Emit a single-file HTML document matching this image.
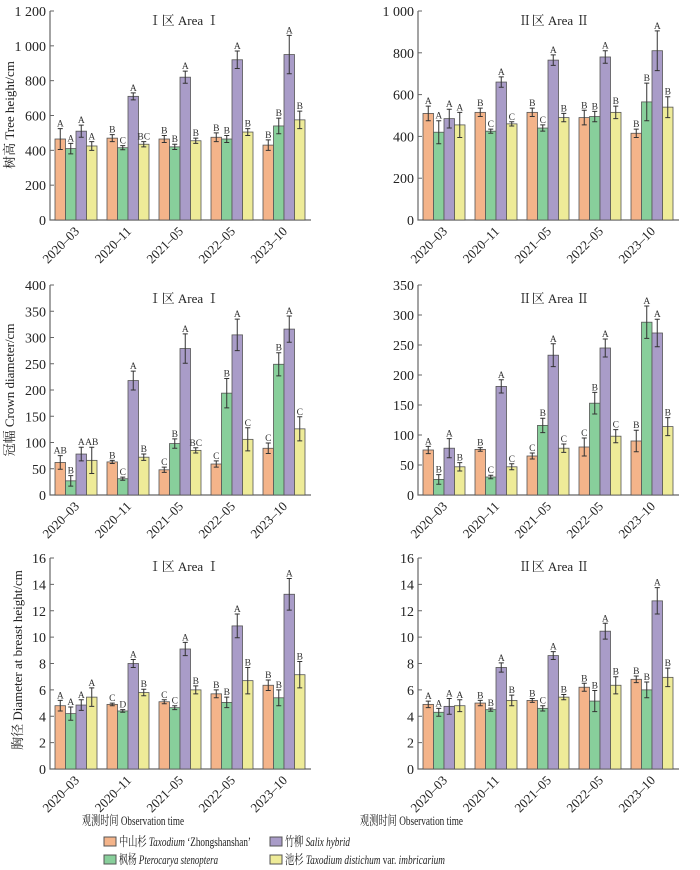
<!DOCTYPE html>
<html><head><meta charset="utf-8">
<style>
html,body{margin:0;padding:0;background:#fff;}
svg{display:block;font-family:"Liberation Serif","Noto Serif CJK SC",serif;}
</style></head>
<body>
<svg id="chart" width="700" height="870" xmlns="http://www.w3.org/2000/svg">
  <text x="82" y="825" font-size="13" textLength="102" lengthAdjust="spacingAndGlyphs" fill="#222">观测时间 Observation time</text>
  <text x="360" y="825" font-size="13" textLength="103" lengthAdjust="spacingAndGlyphs" fill="#222">观测时间 Observation time</text>
  <g font-size="13" fill="#222">
    <g><rect x="104" y="837" width="12" height="9" fill="#f4b48a" stroke="#555"/><text x="119" y="846" textLength="132" lengthAdjust="spacingAndGlyphs">中山杉 <tspan font-style="italic">Taxodium</tspan> ‘Zhongshanshan’</text></g>
    <g><rect x="270" y="837" width="12" height="9" fill="#a99cc8" stroke="#555"/><text x="285" y="846" textLength="65" lengthAdjust="spacingAndGlyphs">竹柳 <tspan font-style="italic">Salix hybrid</tspan></text></g>
    <g><rect x="104" y="855" width="12" height="9" fill="#88cf9b" stroke="#555"/><text x="119" y="864" textLength="99" lengthAdjust="spacingAndGlyphs">枫杨 <tspan font-style="italic">Pterocarya stenoptera</tspan></text></g>
    <g><rect x="270" y="855" width="12" height="9" fill="#eeeb98" stroke="#555"/><text x="285" y="864" textLength="160" lengthAdjust="spacingAndGlyphs">池杉 <tspan font-style="italic">Taxodium distichum</tspan> var. <tspan font-style="italic">imbricarium</tspan></text></g>
  </g>
</svg>
<script>
const categories = ["2020–03","2020–11","2021–05","2022–05","2023–10"];
const seriesNames = ["zhongshanshan","pterocarya","salix","taxodium-distichum"];
const colors = ["#f4b48a","#88cf9b","#a99cc8","#eeeb98"];

const heightAVals = [[465,470,465,475,430],[410,415,420,465,540],[510,710,820,920,950],[425,435,455,505,575]];
const heightAErr = [[60,20,20,25,30],[30,12,15,20,45],[35,20,35,50,110],[25,15,15,20,50]];
const heightALet = [["A","B","B","B","B"],["A","C","B","B","B"],["A","A","A","A","A"],["A","BC","B","B","B"]];

const heightBVals = [[510,515,515,490,415],[420,425,440,495,565],[485,660,765,780,810],[455,460,490,515,540]];
const heightBErr = [[35,20,20,35,20],[55,10,15,25,90],[45,25,25,30,95],[60,10,20,30,50]];
const heightBLet = [["A","B","B","B","B"],["A","C","C","B","B"],["A","A","A","A","A"],["A","C","B","B","B"]];

const crownAVals = [[62,63,48,59,89],[27,31,98,194,249],[78,218,279,305,316],[66,72,85,106,126]];
const crownAErr = [[13,3,5,6,10],[10,3,9,28,22],[13,18,28,30,25],[25,6,5,22,23]];
const crownALet = [["AB","B","C","C","C"],["B","C","B","B","B"],["A","A","A","A","A"],["AB","B","BC","C","C"]];

const crownBVals = [[75,76,65,80,90],[26,30,116,153,288],[78,181,233,245,270],[47,47,78,98,114]];
const crownBErr = [[6,3,5,15,18],[8,3,12,18,27],[16,11,19,15,23],[7,5,7,11,15]];
const crownBLet = [["A","B","C","C","B"],["B","C","B","B","A"],["A","A","A","A","A"],["B","C","C","C","B"]];

const dbhAVals = [[4.8,4.9,5.1,5.7,6.35],[4.2,4.4,4.65,5.05,5.4],[4.85,8.0,9.1,10.85,13.25],[5.45,5.8,6.0,6.7,7.15]];
const dbhAErr = [[0.4,0.1,0.15,0.3,0.4],[0.5,0.1,0.15,0.4,0.6],[0.4,0.3,0.5,0.9,1.2],[0.7,0.25,0.3,1.0,1.0]];
const dbhALet = [["A","C","C","B","B"],["A","D","C","B","B"],["A","A","A","A","A"],["A","B","B","B","B"]];

const dbhBVals = [[4.9,5.0,5.2,6.2,6.8],[4.3,4.5,4.6,5.15,6.0],[4.75,7.7,8.6,10.45,12.75],[4.8,5.2,5.45,6.35,6.95]];
const dbhBErr = [[0.25,0.2,0.15,0.3,0.25],[0.3,0.12,0.2,0.8,0.6],[0.6,0.35,0.3,0.6,1.0],[0.45,0.4,0.2,0.65,0.7]];
const dbhBLet = [["A","B","B","B","B"],["A","B","C","B","B"],["A","A","A","A","A"],["A","B","B","B","B"]];

const ticksH1 = [0,200,400,600,800,1000,1200];
const ticksH2 = [0,200,400,600,800,1000];
const ticksC1 = [0,50,100,150,200,250,300,350,400];
const ticksC2 = [0,50,100,150,200,250,300,350];
const ticksD = [0,2,4,6,8,10,12,14,16];

const NS = "http://www.w3.org/2000/svg";
const svg = document.getElementById("chart");
function mk(tag, attrs, parent){
  const e = document.createElementNS(NS, tag);
  for (const k in attrs) e.setAttribute(k, attrs[k]);
  (parent||svg).appendChild(e);
  return e;
}
function fmt(v){ return v>=1000 ? String(v).replace(/(\d)(\d{3})$/,"$1 $2") : String(v); }

function panel(cfg){
  const g = mk("g", {});
  
  
  const x0 = cfg.x0, x1 = cfg.x1, yb = cfg.yb, yt = cfg.yt;
  const maxV = cfg.ticks[cfg.ticks.length-1];
  const yS = v => yb - (v/maxV)*(yb-yt);
  const gap = 52, bw = 10.5, start = x0 + 5;
  const xS = (ci, si) => start + ci*gap + si*bw;
  const ax = mk("path", {d:`M${x0},${yt} L${x0},${yb} L${x1},${yb}`, fill:"none", stroke:"#666", "stroke-width":1.2}, g);
  
  
  cfg.ticks.forEach(t => {
    const y = yS(t);
    mk("line", {x1:x0, x2:x0+4, y1:y, y2:y, stroke:"#666", "stroke-width":1}, g);
    const tl = mk("text", {x:x0-4, y:y+5, "font-size":14, "text-anchor":"end", fill:"#222"}, g);
    tl.textContent = fmt(t);
    
    
  });
  const tt = mk("text", {x:cfg.titleX, y:cfg.titleY, "font-size":13, "text-anchor":"middle", fill:"#222"}, g);
  tt.textContent = cfg.title;
  
  
  if (cfg.ylabel){
    const yl = mk("text", {x:0, y:0, "font-size":13, "text-anchor":"middle", fill:"#222",
      transform:`translate(${cfg.ylx},${cfg.yly}) rotate(-90)`}, g);
    yl.textContent = cfg.ylabel;
    
    
  }
  categories.forEach((c, ci) => {
    const cx = start + ci*gap + 2*bw + 4;
    const xl = mk("text", {x:0, y:0, "font-size":13, "text-anchor":"end", fill:"#222",
      transform:`translate(${cx},${yb+12}) rotate(-45)`}, g);
    xl.textContent = c;
    
    
  });
  cfg.vals.forEach((arr, si) => {
    arr.forEach((v, ci) => {
      const x = xS(ci, si), y = yS(v);
      const r = mk("rect", {x:x, y:y, width:bw, height:yb-y, fill:colors[si], stroke:"#555", "stroke-width":0.8}, g);
      
      
      const e = cfg.err[si][ci];
      const cx = x + bw/2, ya = yS(v+e), yb2 = yS(v-e);
      const eb = mk("path", {d:`M${cx},${ya} L${cx},${yb2} M${cx-2.5},${ya} L${cx+2.5},${ya} M${cx-2.5},${yb2} L${cx+2.5},${yb2}`, stroke:"#333", "stroke-width":1, fill:"none"}, g);
      
      
      const lt = mk("text", {x:cx, y:ya-2, "font-size":9.5, "text-anchor":"middle", fill:"#333"}, g);
      lt.textContent = cfg.let[si][ci];
      
      
    });
  });
}

panel({name:"panel-height-area1", x0:50, x1:311, yb:220, yt:11, ticks:ticksH1, vals:heightAVals, err:heightAErr, let:heightALet,
  title:"Ⅰ区 Area Ⅰ", titleX:184, titleY:25, ylabel:"树高 Tree height/cm", ylx:14, yly:115});
panel({name:"panel-height-area2", x0:418, x1:679, yb:220, yt:11, ticks:ticksH2, vals:heightBVals, err:heightBErr, let:heightBLet,
  title:"Ⅱ区 Area Ⅱ", titleX:554, titleY:25});
panel({name:"panel-crown-area1", x0:50, x1:311, yb:495, yt:285, ticks:ticksC1, vals:crownAVals, err:crownAErr, let:crownALet,
  title:"Ⅰ区 Area Ⅰ", titleX:184, titleY:303, ylabel:"冠幅 Crown diameter/cm", ylx:14, yly:390});
panel({name:"panel-crown-area2", x0:418, x1:679, yb:495, yt:285, ticks:ticksC2, vals:crownBVals, err:crownBErr, let:crownBLet,
  title:"Ⅱ区 Area Ⅱ", titleX:554, titleY:303});
panel({name:"panel-dbh-area1", x0:50, x1:311, yb:769, yt:558, ticks:ticksD, vals:dbhAVals, err:dbhAErr, let:dbhALet,
  title:"Ⅰ区 Area Ⅰ", titleX:184, titleY:571, ylabel:"胸径 Diameter at breast height/cm", ylx:22, yly:660});
panel({name:"panel-dbh-area2", x0:418, x1:679, yb:769, yt:558, ticks:ticksD, vals:dbhBVals, err:dbhBErr, let:dbhBLet,
  title:"Ⅱ区 Area Ⅱ", titleX:554, titleY:571});
</script>
</body></html>
